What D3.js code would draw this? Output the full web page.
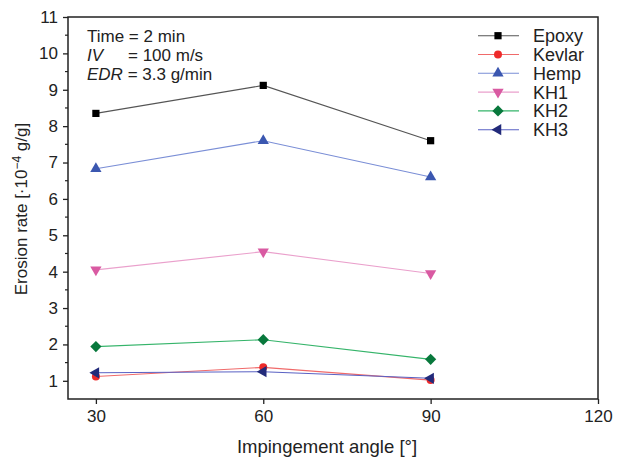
<!DOCTYPE html>
<html>
<head>
<meta charset="utf-8">
<script src="https://cdn.jsdelivr.net/npm/d3@7"></script>
<style>
  body { margin: 0; background: #fff; }
  text { font-family: "Liberation Sans", Arial, sans-serif; }
</style>
</head>
<body>
<script>
const width = 620, height = 460;
const margin = { top: 17, right: 22, bottom: 60, left: 68 };

// data
const angles = [30, 60, 90];
const seriesNames = ["Epoxy", "Kevlar", "Hemp", "KH1", "KH2", "KH3"];
const epoxy  = [8.35, 9.12, 7.60];
const kevlar = [1.12, 1.37, 1.02];
const hemp   = [6.83, 7.60, 6.60];
const kh1    = [4.05, 4.55, 3.95];
const kh2    = [1.94, 2.13, 1.59];
const kh3    = [1.22, 1.25, 1.07];
const xTicks = [30, 60, 90, 120];
const yTicks = [1, 2, 3, 4, 5, 6, 7, 8, 9, 10, 11];

const styles = [
    { line: "#555",    fill: "#000",    symbol: d3.symbolSquare },
    { line: "#f06a6a", fill: "#ee2a2a", symbol: d3.symbolCircle },
    { line: "#7a8ed6", fill: "#3b57b0", symbol: d3.symbolTriangle },
    { line: "#eaa0cc", fill: "#d95aa2", symbol: "down" },
    { line: "#35b46a", fill: "#08783c", symbol: d3.symbolDiamond2 },
    { line: "#5a62c4", fill: "#222a7a", symbol: "left" }
];
const series = [epoxy, kevlar, hemp, kh1, kh2, kh3].map((v, i) =>
    Object.assign({ name: seriesNames[i], values: v }, styles[i]));

const svg = d3.select("body").append("svg")
    .attr("width", width)
    .attr("height", height);

const plotBottom = 399;
const x = d3.scaleLinear().domain([25, 120]).range([margin.left, width - margin.right]);
const y = d3.scaleLinear().domain([0.5, 11]).range([plotBottom, margin.top]);

function markerPath(sym, size) {
    if (sym === "down" || sym === "left") return d3.symbol(d3.symbolTriangle, size)();
    return d3.symbol(sym, size)();
}
function markerRotate(sym) {
    if (sym === "down") return " rotate(180)";
    if (sym === "left") return " rotate(-90)";
    return "";
}
function markerSize(sym) {
    if (sym === d3.symbolSquare) return 52;
    if (sym === d3.symbolCircle) return 50;
    if (sym === d3.symbolDiamond2) return 80;
    return 55;
}

// frame
svg.append("rect")
    .attr("x", margin.left).attr("y", margin.top)
    .attr("width", width - margin.right - margin.left)
    .attr("height", plotBottom - margin.top)
    .attr("fill", "none").attr("stroke", "#222").attr("stroke-width", 1.5);

// x axis
const xAxis = svg.append("g")
    .attr("transform", `translate(0,${plotBottom})`)
    .call(d3.axisBottom(x).tickValues(xTicks).tickSize(5).tickPadding(6));
xAxis.select(".domain").remove();
xAxis.selectAll("line").attr("stroke", "#222").attr("stroke-width", 1.3);
xAxis.selectAll("text").attr("font-size", 17).attr("fill", "#222")
    .style("font-family", "Liberation Sans, Arial, sans-serif");

// y axis
const yAxis = svg.append("g")
    .attr("transform", `translate(${margin.left},0)`)
    .call(d3.axisLeft(y).tickValues(yTicks).tickSize(5).tickPadding(5));
yAxis.select(".domain").remove();
yAxis.selectAll("line").attr("stroke", "#222").attr("stroke-width", 1.3);
yAxis.selectAll("text").attr("font-size", 17).attr("fill", "#222")
    .style("font-family", "Liberation Sans, Arial, sans-serif");

// minor y ticks
svg.append("g")
    .selectAll("line")
    .data(d3.range(1.5, 11, 1))
    .join("line")
    .attr("x1", margin.left - 3).attr("x2", margin.left)
    .attr("y1", d => y(d)).attr("y2", d => y(d))
    .attr("stroke", "#222").attr("stroke-width", 1.2);

// axis titles
svg.append("text")
    .attr("x", 327).attr("y", 453)
    .attr("text-anchor", "middle")
    .attr("font-size", 18.5).attr("fill", "#222")
    .text("Impingement angle [°]");

const yTitle = svg.append("text")
    .attr("transform", `translate(27,209) rotate(-90)`)
    .attr("text-anchor", "middle")
    .attr("font-size", 17).attr("fill", "#222");
yTitle.append("tspan").text("Erosion rate [·10");
yTitle.append("tspan").attr("dy", -6).attr("font-size", 12).text("−4");
yTitle.append("tspan").attr("dy", 6).text(" g/g]");

// series
const line = d3.line().x((d, i) => x(angles[i])).y(d => y(d));

series.forEach(s => {
    svg.append("path")
        .datum(s.values)
        .attr("fill", "none")
        .attr("stroke", s.line)
        .attr("stroke-width", 1.1)
        .attr("d", line);
});
series.forEach(s => {
    svg.append("g").selectAll("path")
        .data(s.values)
        .join("path")
        .attr("transform", (d, i) => `translate(${x(angles[i])},${y(d)})` + markerRotate(s.symbol))
        .attr("d", markerPath(s.symbol, markerSize(s.symbol)))
        .attr("fill", s.fill);
});

// annotation
const ann = svg.append("g").attr("font-size", 17).attr("fill", "#222");
ann.append("text").attr("x", 87).attr("y", 42).text("Time = 2 min");
const l2 = ann.append("text").attr("x", 87).attr("y", 61);
l2.append("tspan").attr("font-style", "italic").text("IV");
l2.append("tspan").attr("x", 128).text("= 100 m/s");
const l3 = ann.append("text").attr("x", 87).attr("y", 80);
l3.append("tspan").attr("font-style", "italic").text("EDR");
l3.append("tspan").text(" = 3.3 g/min");

// legend
const legend = svg.append("g");
series.forEach((s, i) => {
    const ly = 35.7 + i * 18.8;
    legend.append("line")
        .attr("x1", 478).attr("x2", 519)
        .attr("y1", ly).attr("y2", ly)
        .attr("stroke", s.line).attr("stroke-width", 1.1);
    legend.append("path")
        .attr("transform", `translate(498,${ly})` + markerRotate(s.symbol))
        .attr("d", markerPath(s.symbol, markerSize(s.symbol)))
        .attr("fill", s.fill);
    legend.append("text")
        .attr("x", 533).attr("y", ly + 6.5)
        .attr("font-size", 18).attr("fill", "#222")
        .text(s.name);
});
</script>
</body>
</html>
